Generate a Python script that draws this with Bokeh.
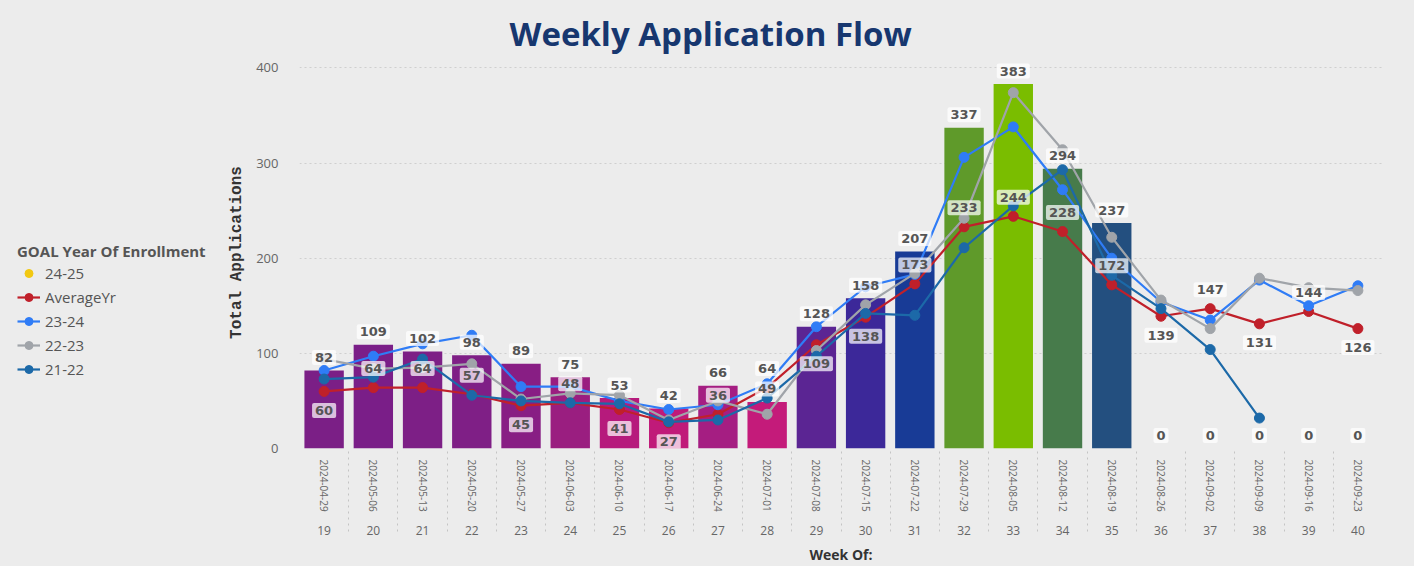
import math
from bokeh.plotting import figure
from bokeh.layouts import row
from bokeh.models import (ColumnDataSource, FactorRange, Range1d, Legend, LegendItem,
                          FixedTicker)
from bokeh.core.properties import value
from bokeh.embed import file_html
from bokeh.resources import INLINE

# ---------------- data ----------------
weeks = [str(w) for w in range(19, 41)]
dates = ["2024-04-29", "2024-05-06", "2024-05-13", "2024-05-20", "2024-05-27",
         "2024-06-03", "2024-06-10", "2024-06-17", "2024-06-24", "2024-07-01",
         "2024-07-08", "2024-07-15", "2024-07-22", "2024-07-29", "2024-08-05",
         "2024-08-12", "2024-08-19", "2024-08-26", "2024-09-02", "2024-09-09",
         "2024-09-16", "2024-09-23"]
apps_24_25 = [82, 109, 102, 98, 89, 75, 53, 42, 66, 49, 128, 158, 207, 337, 383,
              294, 237, 0, 0, 0, 0, 0]
avg_yr = [60, 64, 64, 57, 45, 48, 41, 27, 36, 64, 109, 138, 173, 233, 244,
          228, 172, 139, 147, 131, 144, 126]
apps_23_24 = [82, 97, 110, 119, 65, 65, 50, 41, 46, 68, 128, 170, 183, 306, 338,
              272, 200, 154, 135, 177, 150, 171]
apps_22_23 = [94, 84, 85, 89, 52, 58, 56, 30, 50, 36, 103, 151, 184, 242, 374,
              314, 222, 156, 126, 179, 169, 166]
apps_21_22 = [73, 75, 94, 56, 50, 48, 47, 28, 30, 53, 97, 142, 140, 211, 255,
              293, 182, 147, 104, 32, float("nan"), float("nan")]
series_names = ["24-25", "AverageYr", "23-24", "22-23", "21-22"]

# ---------------- styles ----------------
bar_colors = ["#7B1F86", "#7A1E88", "#7D1F86", "#7F1F86", "#881E84", "#9A1E80",
              "#B61A7C", "#C01A79", "#A51E82", "#C41B7A", "#5B2593", "#3C2899",
              "#183B96", "#5F9A2A", "#7ABD00", "#477B4B", "#234F7F", "#234F7F",
              "#234F7F", "#234F7F", "#234F7F", "#234F7F"]
# +1: AverageYr label above its point, -1: below
avg_label_side = [-1, 1, 1, 1, -1, 1, -1, -1, 1, 1, -1, -1, 1, 1, 1, 1, 1,
                  -1, 1, -1, 1, -1]

C_KEY = "#F2C811"
C_AVG = "#C0202A"
C_2324 = "#2F7CF6"
C_2223 = "#A0A4A9"
C_2122 = "#1C69A8"
BG = "#ECECEC"
FONT = "Open Sans"
LW = 225          # width of the legend strip on the left
H = 566

x = list(zip(weeks, dates))
src = ColumnDataSource(dict(
    x=x, bar=apps_24_25, avg=avg_yr, a2324=apps_23_24, a2223=apps_22_23,
    a2122=apps_21_22, color=bar_colors,
    bar_lbl=[str(v) for v in apps_24_25],
    avg_lbl=[str(v) for v in avg_yr],
    avg_off=[-19 * s for s in avg_label_side],
))

p = figure(x_range=FactorRange(*x, group_padding=0, range_padding=0),
           y_range=Range1d(0, 412),
           width=1414 - LW, height=H, output_backend="svg", toolbar_location=None,
           min_border_left=297 - LW, min_border_right=32, min_border_top=56,
           min_border_bottom=100,
           background_fill_color=BG, background_fill_alpha=0,
           border_fill_color=BG, outline_line_color=None)

p.title.text = "Weekly Application Flow"
p.title.text_font = FONT
p.title.text_font_size = "33px"
p.title.text_font_style = "bold"
p.title.text_color = "#17376F"
p.title.align = "left"
p.title.offset = 210
p.title.standoff = 2

# bars
p.vbar(x="x", top="bar", width=0.8, source=src, fill_color="color", line_color=None)

# lines
for key, col in [("avg", C_AVG), ("a2324", C_2324), ("a2223", C_2223), ("a2122", C_2122)]:
    p.line(x="x", y=key, source=src, line_color=col, line_width=2.2)
    p.scatter(x="x", y=key, source=src, size=10, fill_color=col, line_color=col)

# data labels
lbl_kw = dict(text_align="center", text_baseline="middle",
              text_font=value("DejaVu Sans"), text_font_style="bold",
              text_font_size="13px", text_color="#555555",
              background_fill_color="white", background_fill_alpha=0.72,
              padding=3, border_radius=2)
p.text(x="x", y="bar", text="bar_lbl", source=src, y_offset=-13, **lbl_kw)
p.text(x="x", y="avg", text="avg_lbl", source=src, y_offset="avg_off", **lbl_kw)

# axes
p.xgrid.grid_line_color = None
p.ygrid.grid_line_color = "#CFCFCF"
p.ygrid.grid_line_dash = "2 3"
p.ygrid.ticker = FixedTicker(ticks=[100, 200, 300, 400])

yax = p.yaxis[0]
yax.ticker = FixedTicker(ticks=[0, 100, 200, 300, 400])
yax.axis_line_color = None
yax.major_tick_line_color = None
yax.minor_tick_line_color = None
yax.major_tick_out = 0
yax.major_tick_in = 0
yax.major_label_text_font = FONT
yax.major_label_text_font_size = "13px"
yax.major_label_text_color = "#666666"
yax.major_label_standoff = 21
yax.axis_label = "Total Applications"
yax.axis_label_text_font = "Liberation Mono"
yax.axis_label_text_font_style = "bold"
yax.axis_label_text_font_size = "16px"
yax.axis_label_text_color = "#333333"
yax.axis_label_standoff = 7

xax = p.xaxis[0]
xax.axis_line_color = None
xax.major_tick_line_color = None
xax.minor_tick_line_color = None
xax.major_tick_out = 0
xax.major_tick_in = 0
xax.major_label_orientation = "vertical"
xax.major_label_text_font = FONT
xax.major_label_text_font_size = "10px"
xax.major_label_text_color = "#666666"
xax.major_label_standoff = 11
xax.group_label_orientation = "horizontal"
xax.group_text_font = FONT
xax.group_text_font_size = "12px"
xax.group_text_font_style = "normal"
xax.group_text_color = "#666666"
xax.separator_line_color = "#C4C4C4"
xax.separator_line_dash = "dotted"
xax.separator_line_width = 1
xax.axis_label = "Week Of:"
xax.axis_label_text_font = FONT
xax.axis_label_text_font_style = "bold"
xax.axis_label_text_font_size = "14px"
xax.axis_label_text_color = "#333333"
xax.axis_label_standoff = 7

# ---------------- legend strip ----------------
lf = figure(width=LW, height=H, output_backend="svg", toolbar_location=None,
            x_range=Range1d(0, 1), y_range=Range1d(0, 1),
            x_axis_location=None, y_axis_location=None,
            min_border=0, min_border_left=0, min_border_right=0,
            min_border_top=0, min_border_bottom=0,
            background_fill_color=BG, background_fill_alpha=0,
            border_fill_color=BG, outline_line_color=None)
lf.xgrid.grid_line_color = None
lf.ygrid.grid_line_color = None

key_src = ColumnDataSource(dict(x=[float("nan")], y=[float("nan")]))
items = [LegendItem(label=series_names[0], renderers=[
    lf.scatter(x="x", y="y", source=key_src, size=6, fill_color=C_KEY, line_color=C_KEY)])]
for name, col in zip(series_names[1:], [C_AVG, C_2324, C_2223, C_2122]):
    ln = lf.line(x="x", y="y", source=key_src, line_color=col, line_width=2.2)
    sc = lf.scatter(x="x", y="y", source=key_src, size=9, fill_color=col, line_color=col)
    items.append(LegendItem(label=name, renderers=[ln, sc]))

# the strip's frame is aligned with the chart's frame (bottom at the zero line)
legend = Legend(items=items, location=(17, 69), glyph_width=23,
                label_standoff=5, spacing=4, glyph_height=20, label_height=20,
                background_fill_alpha=0, border_line_color=None, padding=0, margin=0,
                label_text_font=FONT, label_text_font_size="15px",
                label_text_color="#555555",
                title="GOAL Year Of Enrollment", title_text_font=FONT,
                title_text_font_style="bold", title_text_font_size="15px",
                title_text_color="#555555", title_standoff=2)
lf.add_layout(legend)

layout = row(lf, p)
layout.styles = {"background-color": BG}
open("out.html", "w").write(file_html(layout, INLINE))
